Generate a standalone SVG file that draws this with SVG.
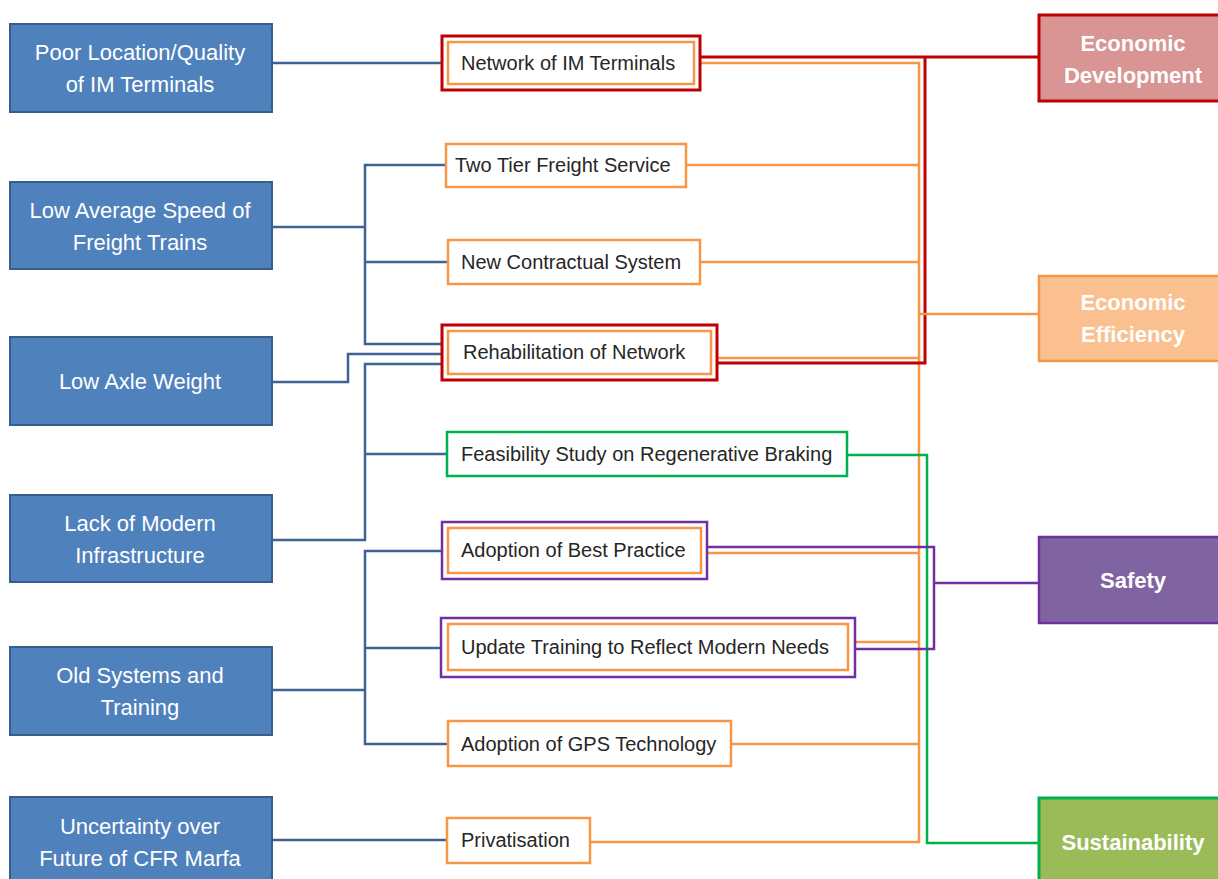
<svg xmlns="http://www.w3.org/2000/svg" width="1218" height="879" viewBox="0 0 1218 879">
  <style>
    .bg { fill: #ffffff; }
    .cause rect { fill: #4F81BD; stroke: #385D8A; stroke-width: 2; }
    .cause text { fill: #ffffff; font-family: "Liberation Sans", Arial, sans-serif; font-size: 22px; text-anchor: middle; }
    .act text { fill: #262626; font-family: "Liberation Sans", Arial, sans-serif; font-size: 20px; }
    .act rect { fill: #ffffff; }
    .o { stroke: #F79646; stroke-width: 2.5; fill: none; }
    .r { stroke: #C00000; stroke-width: 3; fill: none; }
    .g { stroke: #00B050; stroke-width: 2.5; fill: none; }
    .p { stroke: #7030A0; stroke-width: 2.5; fill: none; }
    .b { stroke: #3E6294; stroke-width: 2.5; fill: none; }
    .goal text { fill: #ffffff; font-family: "Liberation Sans", Arial, sans-serif; font-size: 22px; font-weight: bold; text-anchor: middle; }
  </style>
  <rect class="bg" x="0" y="0" width="1218" height="879"/>

  <!-- connectors -->
  <g id="connectors" stroke-linejoin="miter">
    <!-- causes to actions -->
    <path class="b" d="M272,63 H443"/>
    <path class="b" d="M272,227 H365 M446,165 H365 V344 H442 M365,262 H448"/>
    <path class="b" d="M272,382 H348 V354 H442"/>
    <path class="b" d="M272,540 H365 V364 H442 M365,454 H447"/>
    <path class="b" d="M272,690 H365 M442,551 H365 V744 H448 M365,648 H441"/>
    <path class="b" d="M272,840 H447"/>
    <!-- actions to objectives -->
    <path class="o" d="M694,63 H919 V842 H590 M686,165 H919 M700,262 H919 M711,358 H919 M701,553 H919 M848,642 H919 M731,744 H919"/>
    <path class="g" d="M847,455 H927 V843 H1039"/>
    <path class="r" d="M700,57 H1039 M925,57 V363 H717"/>
    <path class="o" d="M919,314 H1039"/>
    <path class="p" d="M707,547 H934 V649 H855 M934,583 H1039"/>
  </g>

  <!-- causes -->
  <g id="cause-terminals" class="cause">
    <rect x="10" y="24" width="262" height="88"/>
    <text x="140" y="60">Poor Location/Quality</text>
    <text x="140" y="92">of IM Terminals</text>
  </g>
  <g id="cause-speed" class="cause">
    <rect x="10" y="182" width="262" height="87"/>
    <text x="140" y="218">Low Average Speed of</text>
    <text x="140" y="250">Freight Trains</text>
  </g>
  <g id="cause-axle" class="cause">
    <rect x="10" y="337" width="262" height="88"/>
    <text x="140" y="389">Low Axle Weight</text>
  </g>
  <g id="cause-infrastructure" class="cause">
    <rect x="10" y="495" width="262" height="87"/>
    <text x="140" y="531">Lack of Modern</text>
    <text x="140" y="563">Infrastructure</text>
  </g>
  <g id="cause-systems" class="cause">
    <rect x="10" y="647" width="262" height="88"/>
    <text x="140" y="683">Old Systems and</text>
    <text x="140" y="715">Training</text>
  </g>
  <g id="cause-uncertainty" class="cause">
    <rect x="10" y="797" width="262" height="95"/>
    <text x="140" y="834">Uncertainty over</text>
    <text x="140" y="866">Future of CFR Marfa</text>
  </g>

  <!-- actions -->
  <g id="act-network" class="act">
    <rect class="r" x="442" y="36" width="258" height="54" style="fill:#fff"/>
    <rect class="o" x="448" y="42" width="246" height="42"/>
    <text x="461" y="70">Network of IM Terminals</text>
  </g>
  <g id="act-two-tier" class="act">
    <rect class="o" x="446" y="144" width="240" height="43" style="fill:#fff"/>
    <text x="455" y="172">Two Tier Freight Service</text>
  </g>
  <g id="act-contractual" class="act">
    <rect class="o" x="448" y="240" width="252" height="44" style="fill:#fff"/>
    <text x="461" y="269">New Contractual System</text>
  </g>
  <g id="act-rehabilitation" class="act">
    <rect class="r" x="442" y="325" width="275" height="55" style="fill:#fff"/>
    <rect class="o" x="448" y="331" width="263" height="43"/>
    <text x="463" y="359">Rehabilitation of Network</text>
  </g>
  <g id="act-braking" class="act">
    <rect class="g" x="447" y="432" width="400" height="44" style="fill:#fff"/>
    <text x="461" y="461">Feasibility Study on Regenerative Braking</text>
  </g>
  <g id="act-best-practice" class="act">
    <rect class="p" x="442" y="522" width="265" height="57" style="fill:#fff"/>
    <rect class="o" x="448" y="528" width="253" height="45"/>
    <text x="461" y="557">Adoption of Best Practice</text>
  </g>
  <g id="act-training" class="act">
    <rect class="p" x="441" y="618" width="414" height="59" style="fill:#fff"/>
    <rect class="o" x="448" y="624" width="400" height="46"/>
    <text x="461" y="654">Update Training to Reflect Modern Needs</text>
  </g>
  <g id="act-gps" class="act">
    <rect class="o" x="448" y="721" width="283" height="45" style="fill:#fff"/>
    <text x="461" y="751">Adoption of GPS Technology</text>
  </g>
  <g id="act-privatisation" class="act">
    <rect class="o" x="447" y="818" width="143" height="45" style="fill:#fff"/>
    <text x="461" y="847">Privatisation</text>
  </g>

  <!-- objectives -->
  <g id="goal-development" class="goal">
    <rect x="1039" y="15" width="190" height="86" fill="#D99594" stroke="#C00000" stroke-width="3"/>
    <text x="1133" y="51">Economic</text>
    <text x="1133" y="83">Development</text>
  </g>
  <g id="goal-efficiency" class="goal">
    <rect x="1039" y="276" width="190" height="85" fill="#FAC090" stroke="#F79646" stroke-width="2.5"/>
    <text x="1133" y="310">Economic</text>
    <text x="1133" y="342">Efficiency</text>
  </g>
  <g id="goal-safety" class="goal">
    <rect x="1039" y="537" width="190" height="86" fill="#8064A2" stroke="#7030A0" stroke-width="2.5"/>
    <text x="1133" y="588">Safety</text>
  </g>
  <g id="goal-sustainability" class="goal">
    <rect x="1039" y="798" width="190" height="95" fill="#9BBB59" stroke="#00B050" stroke-width="3"/>
    <text x="1133" y="850">Sustainability</text>
  </g>
</svg>
